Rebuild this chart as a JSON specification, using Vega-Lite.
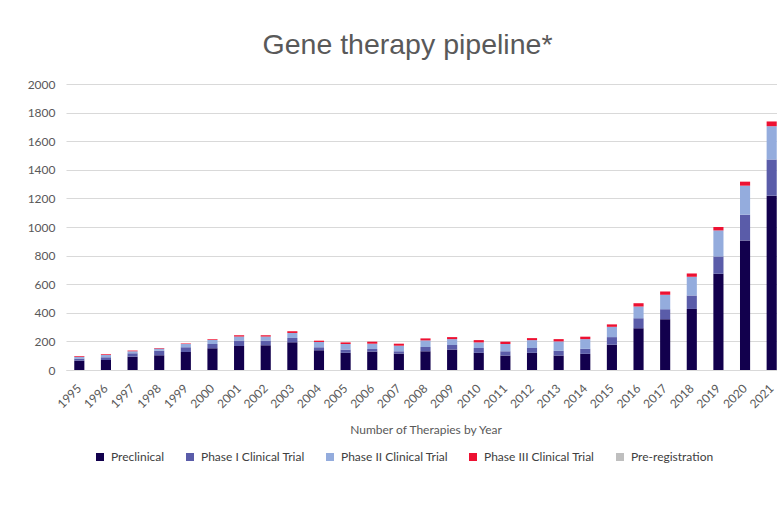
{
  "$schema": "https://vega.github.io/schema/vega-lite/v6.json",
  "autosize": "none",
  "padding": {"left": 66, "top": 84, "right": 0, "bottom": 152},
  "width": 719,
  "height": 286,
  "background": "white",
  "title": {
    "text": "Gene therapy pipeline*",
    "font": "Liberation Sans",
    "fontSize": 28.5,
    "fontWeight": "normal",
    "color": "#595959",
    "anchor": "middle",
    "dx": -18,
    "offset": 19
  },
  "data": {
    "values": [
      {"year": "1995", "stage": "Preclinical", "count": 65}, {"year": "1995", "stage": "Phase I Clinical Trial", "count": 15}, {"year": "1995", "stage": "Phase II Clinical Trial", "count": 12}, {"year": "1995", "stage": "Phase III Clinical Trial", "count": 5}, {"year": "1995", "stage": "Pre-registration", "count": 0},
      {"year": "1996", "stage": "Preclinical", "count": 70}, {"year": "1996", "stage": "Phase I Clinical Trial", "count": 19}, {"year": "1996", "stage": "Phase II Clinical Trial", "count": 16}, {"year": "1996", "stage": "Phase III Clinical Trial", "count": 5}, {"year": "1996", "stage": "Pre-registration", "count": 0},
      {"year": "1997", "stage": "Preclinical", "count": 93}, {"year": "1997", "stage": "Phase I Clinical Trial", "count": 24}, {"year": "1997", "stage": "Phase II Clinical Trial", "count": 14}, {"year": "1997", "stage": "Phase III Clinical Trial", "count": 5}, {"year": "1997", "stage": "Pre-registration", "count": 0},
      {"year": "1998", "stage": "Preclinical", "count": 103}, {"year": "1998", "stage": "Phase I Clinical Trial", "count": 32}, {"year": "1998", "stage": "Phase II Clinical Trial", "count": 15}, {"year": "1998", "stage": "Phase III Clinical Trial", "count": 4}, {"year": "1998", "stage": "Pre-registration", "count": 0},
      {"year": "1999", "stage": "Preclinical", "count": 126}, {"year": "1999", "stage": "Phase I Clinical Trial", "count": 33}, {"year": "1999", "stage": "Phase II Clinical Trial", "count": 23}, {"year": "1999", "stage": "Phase III Clinical Trial", "count": 4}, {"year": "1999", "stage": "Pre-registration", "count": 0},
      {"year": "2000", "stage": "Preclinical", "count": 152}, {"year": "2000", "stage": "Phase I Clinical Trial", "count": 30}, {"year": "2000", "stage": "Phase II Clinical Trial", "count": 28}, {"year": "2000", "stage": "Phase III Clinical Trial", "count": 5}, {"year": "2000", "stage": "Pre-registration", "count": 0},
      {"year": "2001", "stage": "Preclinical", "count": 168}, {"year": "2001", "stage": "Phase I Clinical Trial", "count": 38}, {"year": "2001", "stage": "Phase II Clinical Trial", "count": 28}, {"year": "2001", "stage": "Phase III Clinical Trial", "count": 9}, {"year": "2001", "stage": "Pre-registration", "count": 0},
      {"year": "2002", "stage": "Preclinical", "count": 173}, {"year": "2002", "stage": "Phase I Clinical Trial", "count": 33}, {"year": "2002", "stage": "Phase II Clinical Trial", "count": 28}, {"year": "2002", "stage": "Phase III Clinical Trial", "count": 9}, {"year": "2002", "stage": "Pre-registration", "count": 0},
      {"year": "2003", "stage": "Preclinical", "count": 194}, {"year": "2003", "stage": "Phase I Clinical Trial", "count": 30}, {"year": "2003", "stage": "Phase II Clinical Trial", "count": 35}, {"year": "2003", "stage": "Phase III Clinical Trial", "count": 12}, {"year": "2003", "stage": "Pre-registration", "count": 0},
      {"year": "2004", "stage": "Preclinical", "count": 138}, {"year": "2004", "stage": "Phase I Clinical Trial", "count": 21}, {"year": "2004", "stage": "Phase II Clinical Trial", "count": 37}, {"year": "2004", "stage": "Phase III Clinical Trial", "count": 9}, {"year": "2004", "stage": "Pre-registration", "count": 0},
      {"year": "2005", "stage": "Preclinical", "count": 120}, {"year": "2005", "stage": "Phase I Clinical Trial", "count": 23}, {"year": "2005", "stage": "Phase II Clinical Trial", "count": 39}, {"year": "2005", "stage": "Phase III Clinical Trial", "count": 11}, {"year": "2005", "stage": "Pre-registration", "count": 0},
      {"year": "2006", "stage": "Preclinical", "count": 129}, {"year": "2006", "stage": "Phase I Clinical Trial", "count": 18}, {"year": "2006", "stage": "Phase II Clinical Trial", "count": 37}, {"year": "2006", "stage": "Phase III Clinical Trial", "count": 14}, {"year": "2006", "stage": "Pre-registration", "count": 0},
      {"year": "2007", "stage": "Preclinical", "count": 115}, {"year": "2007", "stage": "Phase I Clinical Trial", "count": 16}, {"year": "2007", "stage": "Phase II Clinical Trial", "count": 39}, {"year": "2007", "stage": "Phase III Clinical Trial", "count": 14}, {"year": "2007", "stage": "Pre-registration", "count": 0},
      {"year": "2008", "stage": "Preclinical", "count": 131}, {"year": "2008", "stage": "Phase I Clinical Trial", "count": 30}, {"year": "2008", "stage": "Phase II Clinical Trial", "count": 46}, {"year": "2008", "stage": "Phase III Clinical Trial", "count": 14}, {"year": "2008", "stage": "Pre-registration", "count": 0},
      {"year": "2009", "stage": "Preclinical", "count": 143}, {"year": "2009", "stage": "Phase I Clinical Trial", "count": 32}, {"year": "2009", "stage": "Phase II Clinical Trial", "count": 41}, {"year": "2009", "stage": "Phase III Clinical Trial", "count": 14}, {"year": "2009", "stage": "Pre-registration", "count": 0},
      {"year": "2010", "stage": "Preclinical", "count": 120}, {"year": "2010", "stage": "Phase I Clinical Trial", "count": 34}, {"year": "2010", "stage": "Phase II Clinical Trial", "count": 39}, {"year": "2010", "stage": "Phase III Clinical Trial", "count": 16}, {"year": "2010", "stage": "Pre-registration", "count": 0},
      {"year": "2011", "stage": "Preclinical", "count": 101}, {"year": "2011", "stage": "Phase I Clinical Trial", "count": 30}, {"year": "2011", "stage": "Phase II Clinical Trial", "count": 51}, {"year": "2011", "stage": "Phase III Clinical Trial", "count": 16}, {"year": "2011", "stage": "Pre-registration", "count": 0},
      {"year": "2012", "stage": "Preclinical", "count": 120}, {"year": "2012", "stage": "Phase I Clinical Trial", "count": 34}, {"year": "2012", "stage": "Phase II Clinical Trial", "count": 55}, {"year": "2012", "stage": "Phase III Clinical Trial", "count": 14}, {"year": "2012", "stage": "Pre-registration", "count": 0},
      {"year": "2013", "stage": "Preclinical", "count": 101}, {"year": "2013", "stage": "Phase I Clinical Trial", "count": 33}, {"year": "2013", "stage": "Phase II Clinical Trial", "count": 66}, {"year": "2013", "stage": "Phase III Clinical Trial", "count": 16}, {"year": "2013", "stage": "Pre-registration", "count": 0},
      {"year": "2014", "stage": "Preclinical", "count": 113}, {"year": "2014", "stage": "Phase I Clinical Trial", "count": 35}, {"year": "2014", "stage": "Phase II Clinical Trial", "count": 68}, {"year": "2014", "stage": "Phase III Clinical Trial", "count": 17}, {"year": "2014", "stage": "Pre-registration", "count": 0},
      {"year": "2015", "stage": "Preclinical", "count": 177}, {"year": "2015", "stage": "Phase I Clinical Trial", "count": 53}, {"year": "2015", "stage": "Phase II Clinical Trial", "count": 72}, {"year": "2015", "stage": "Phase III Clinical Trial", "count": 17}, {"year": "2015", "stage": "Pre-registration", "count": 0},
      {"year": "2016", "stage": "Preclinical", "count": 292}, {"year": "2016", "stage": "Phase I Clinical Trial", "count": 70}, {"year": "2016", "stage": "Phase II Clinical Trial", "count": 82}, {"year": "2016", "stage": "Phase III Clinical Trial", "count": 23}, {"year": "2016", "stage": "Pre-registration", "count": 0},
      {"year": "2017", "stage": "Preclinical", "count": 355}, {"year": "2017", "stage": "Phase I Clinical Trial", "count": 70}, {"year": "2017", "stage": "Phase II Clinical Trial", "count": 101}, {"year": "2017", "stage": "Phase III Clinical Trial", "count": 23}, {"year": "2017", "stage": "Pre-registration", "count": 0},
      {"year": "2018", "stage": "Preclinical", "count": 427}, {"year": "2018", "stage": "Phase I Clinical Trial", "count": 94}, {"year": "2018", "stage": "Phase II Clinical Trial", "count": 131}, {"year": "2018", "stage": "Phase III Clinical Trial", "count": 23}, {"year": "2018", "stage": "Pre-registration", "count": 0},
      {"year": "2019", "stage": "Preclinical", "count": 673}, {"year": "2019", "stage": "Phase I Clinical Trial", "count": 121}, {"year": "2019", "stage": "Phase II Clinical Trial", "count": 182}, {"year": "2019", "stage": "Phase III Clinical Trial", "count": 24}, {"year": "2019", "stage": "Pre-registration", "count": 0},
      {"year": "2020", "stage": "Preclinical", "count": 906}, {"year": "2020", "stage": "Phase I Clinical Trial", "count": 180}, {"year": "2020", "stage": "Phase II Clinical Trial", "count": 203}, {"year": "2020", "stage": "Phase III Clinical Trial", "count": 28}, {"year": "2020", "stage": "Pre-registration", "count": 0},
      {"year": "2021", "stage": "Preclinical", "count": 1219}, {"year": "2021", "stage": "Phase I Clinical Trial", "count": 253}, {"year": "2021", "stage": "Phase II Clinical Trial", "count": 233}, {"year": "2021", "stage": "Phase III Clinical Trial", "count": 33}, {"year": "2021", "stage": "Pre-registration", "count": 0}
    ]
  },
  "transform": [
    {"calculate": "indexof(['Preclinical', 'Phase I Clinical Trial', 'Phase II Clinical Trial', 'Phase III Clinical Trial', 'Pre-registration'], datum.stage)", "as": "stage_order"}
  ],
  "mark": {"type": "bar"},
  "encoding": {
    "x": {
      "field": "year",
      "type": "ordinal",
      "scale": {"paddingInner": 0.62, "paddingOuter": 0.31},
      "axis": {
        "title": "Number of Therapies by Year",
        "labelAngle": -45,
        "labelAlign": "right",
        "labelBaseline": "middle",
        "labelPadding": 16,
        "labelFont": "Lato",
        "labelFontSize": 12,
        "labelColor": "#595959",
        "titleFont": "Lato",
        "titleFontSize": 12,
        "titleFontWeight": "normal",
        "titleColor": "#595959",
        "titlePadding": 15,
        "ticks": false,
        "domain": true,
        "domainColor": "#d9d9d9",
        "grid": false
      }
    },
    "y": {
      "field": "count",
      "type": "quantitative",
      "aggregate": "sum",
      "stack": "zero",
      "scale": {"domain": [0, 2000]},
      "axis": {
        "title": null,
        "format": "d",
        "values": [0, 200, 400, 600, 800, 1000, 1200, 1400, 1600, 1800, 2000],
        "labelFont": "Lato",
        "labelFontSize": 12,
        "labelColor": "#595959",
        "labelPadding": 11,
        "ticks": false,
        "domain": false,
        "grid": true,
        "gridColor": "#d9d9d9",
        "gridWidth": 1
      }
    },
    "color": {
      "field": "stage",
      "type": "nominal",
      "sort": ["Preclinical", "Phase I Clinical Trial", "Phase II Clinical Trial", "Phase III Clinical Trial", "Pre-registration"],
      "scale": {
        "domain": ["Preclinical", "Phase I Clinical Trial", "Phase II Clinical Trial", "Phase III Clinical Trial", "Pre-registration"],
        "range": ["#12004d", "#5a5ca9", "#94acdd", "#ed1132", "#bfbfbf"]
      },
      "legend": {
        "title": null,
        "orient": "none",
        "direction": "horizontal",
        "legendX": 28,
        "legendY": 367,
        "symbolType": "square",
        "symbolSize": 64,
        "symbolStrokeWidth": 0,
        "labelFont": "Lato",
        "labelFontSize": 12,
        "labelColor": "#404040",
        "labelOffset": 5,
        "columnPadding": 19
      }
    },
    "order": {"field": "stage_order", "type": "quantitative", "sort": "ascending"}
  },
  "config": {
    "view": {"stroke": null}
  }
}
